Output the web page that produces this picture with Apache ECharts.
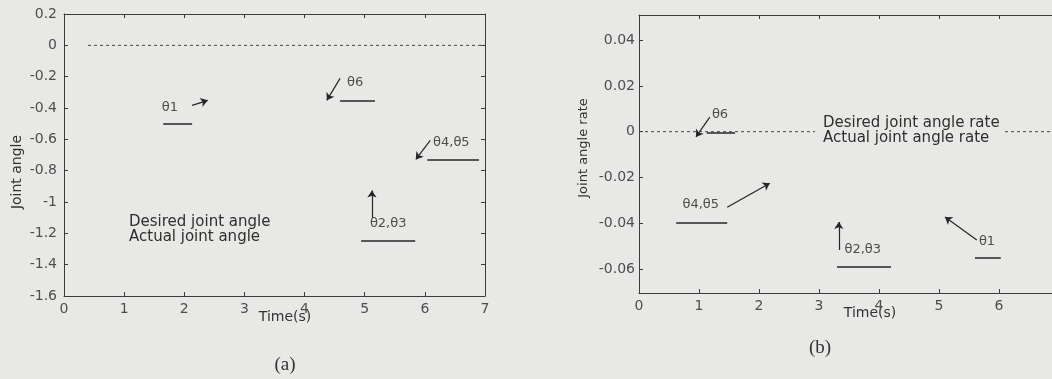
<!DOCTYPE html>
<html>
<head>
<meta charset="utf-8">
<script src="https://cdn.jsdelivr.net/npm/echarts@6/dist/echarts.min.js"></script>
<style>
  html, body { margin: 0; padding: 0; background: #e8e8e6; }
  #chart { width: 1052px; height: 379px; }
</style>
</head>
<body>
<div id="chart"></div>
<script>
// Axis ticks
const timeTicks = [0, 1, 2, 3, 4, 5, 6, 7];
const angleTicks = [-1.6, -1.4, -1.2, -1, -0.8, -0.6, -0.4, -0.2, 0, 0.2];
const rateTicks = [-0.06, -0.04, -0.02, 0, 0.02, 0.04];

// (a) joint angle: desired reference and actual joint segments
const angleDesired = [[0.4, 0], [7, 0]];
const angleNames = ['θ1', 'θ6', 'θ4,θ5', 'θ2,θ3'];
const angleSegStart = [1.65, 4.59, 6.04, 4.94];
const angleSegEnd = [2.13, 5.17, 6.90, 5.84];
const angleSegLevel = [-0.50, -0.351, -0.728, -1.246];
const angleTagPos = [[1.76, -0.40], [4.84, -0.236], [6.44, -0.62], [5.39, -1.137]];
const angleArrowFrom = [[2.13, -0.383], [4.59, -0.211], [6.09, -0.607], [5.12, -1.10]];
const angleArrowTo = [[2.39, -0.351], [4.37, -0.351], [5.85, -0.728], [5.12, -0.927]];

// (b) joint angle rate
const rateDesired = [[0, 0], [7, 0]];
const rateNames = ['θ6', 'θ4,θ5', 'θ2,θ3', 'θ1'];
const rateSegStart = [1.13, 0.62, 3.30, 5.60];
const rateSegEnd = [1.60, 1.47, 4.20, 6.03];
const rateSegLevel = [-0.0006, -0.040, -0.0591, -0.0552];
const rateTagPos = [[1.35, 0.0073], [1.03, -0.032], [3.73, -0.0517], [5.80, -0.0482]];
const rateArrowFrom = [[1.18, 0.0064], [1.47, -0.033], [3.33, -0.0517], [5.63, -0.0473]];
const rateArrowTo = [[0.95, -0.0023], [2.18, -0.0225], [3.33, -0.0395], [5.10, -0.0373]];

const BG = '#e8e8e6';
const AXIS = '#3c3c3c';
const INK = '#262626';
const LABEL = '#4e4e4e';
const SANS = 'DejaVu Sans';

function segments(starts, ends, levels) {
  return starts.map((s, i) => ({ coords: [[s, levels[i]], [ends[i], levels[i]]] }));
}
function arrows(from, to) {
  return from.map((f, i) => ({ coords: [f, to[i]] }));
}
function tags(names, pos) {
  return names.map((n, i) => ({ name: n, value: pos[i] }));
}

function xAxisPair(grid) {
  const base = {
    gridIndex: grid, type: 'value', min: timeTicks[0], max: timeTicks[timeTicks.length - 1], interval: 1,
    splitLine: { show: false },
    axisLine: { show: true, onZero: false, lineStyle: { color: AXIS, width: 1 } },
    axisTick: { show: true, inside: true, length: 4, lineStyle: { color: AXIS } }
  };
  return [
    Object.assign({}, base, {
      position: 'bottom',
      axisLabel: { show: true, margin: 6, color: LABEL, fontFamily: SANS, fontSize: 14 }
    }),
    Object.assign({}, base, { position: 'top', axisLabel: { show: false } })
  ];
}

const yBase = {
  type: 'value',
  splitLine: { show: false },
  axisLine: { show: true, onZero: false, lineStyle: { color: AXIS, width: 1 } },
  axisTick: { show: true, inside: true, length: 4, lineStyle: { color: AXIS } }
};

const chart = echarts.init(document.getElementById('chart'), null, { renderer: 'canvas' });

const tagLabel = {
  show: true, position: 'inside', formatter: '{b}',
  color: INK, fontFamily: SANS, fontSize: 13
};

const legendText = { color: '#2e2e2e', fontFamily: SANS, fontSize: 15, lineHeight: 13 };

chart.setOption({
  animation: false,
  backgroundColor: BG,
  grid: [
    { left: 64, top: 14, width: 421, height: 282, outerBoundsMode: 'none', containLabel: false },
    { left: 639, top: 15, width: 420, height: 278, outerBoundsMode: 'none', containLabel: false }
  ],
  xAxis: [].concat(xAxisPair(0), xAxisPair(1)),
  yAxis: [
    Object.assign({}, yBase, {
      gridIndex: 0, position: 'left', min: angleTicks[0], max: angleTicks[angleTicks.length - 1], interval: 0.2,
      axisLabel: { margin: 7, color: LABEL, fontFamily: SANS, fontSize: 14 }
    }),
    Object.assign({}, yBase, {
      gridIndex: 0, position: 'right', min: angleTicks[0], max: angleTicks[angleTicks.length - 1], interval: 0.2,
      axisLabel: { show: false }
    }),
    Object.assign({}, yBase, {
      gridIndex: 1, position: 'left', min: -0.0705, max: 0.051,
      axisTick: { show: true, inside: true, length: 4, lineStyle: { color: AXIS }, customValues: rateTicks },
      axisLabel: {
        margin: 4, color: LABEL, fontFamily: SANS, fontSize: 14, customValues: rateTicks,
        formatter: v => (Math.abs(v) < 1e-9 ? '0' : v.toFixed(2))
      }
    }),
    Object.assign({}, yBase, {
      gridIndex: 1, position: 'right', min: -0.0705, max: 0.051,
      axisTick: { show: true, inside: true, length: 4, lineStyle: { color: AXIS }, customValues: rateTicks },
      axisLabel: { show: false }
    })
  ],
  legend: [
    {
      data: ['Desired joint angle', 'Actual joint angle'],
      orient: 'vertical', left: 123, top: 215, padding: 0,
      itemWidth: 0, itemHeight: 0, itemGap: 0, icon: 'rect',
      itemStyle: { opacity: 0 }, lineStyle: { opacity: 0 },
      selectedMode: false, textStyle: legendText
    },
    {
      data: ['Desired joint angle rate', 'Actual joint angle rate'],
      orient: 'vertical', left: 815, top: 116, padding: [0, 3, 0, 2],
      itemWidth: 0, itemHeight: 0, itemGap: 0, icon: 'rect',
      itemStyle: { opacity: 0 }, lineStyle: { opacity: 0 },
      selectedMode: false, backgroundColor: BG, textStyle: legendText
    }
  ],
  graphic: [
    { type: 'text', x: 17, y: 172, rotation: Math.PI / 2,
      style: { text: 'Joint angle', align: 'center', verticalAlign: 'middle', fill: '#333', font: '14px "DejaVu Sans"' } },
    { type: 'text', x: 285, y: 317,
      style: { text: 'Time(s)', align: 'center', verticalAlign: 'middle', fill: '#333', font: '14px "DejaVu Sans"' } },
    { type: 'text', x: 285, y: 365,
      style: { text: '(a)', align: 'center', verticalAlign: 'middle', fill: '#333', font: '19px "Liberation Serif"' } },
    { type: 'text', x: 584, y: 148, rotation: Math.PI / 2,
      style: { text: 'Joint angle rate', align: 'center', verticalAlign: 'middle', fill: '#333', font: '13px "DejaVu Sans"' } },
    { type: 'text', x: 870, y: 313,
      style: { text: 'Time(s)', align: 'center', verticalAlign: 'middle', fill: '#333', font: '14px "DejaVu Sans"' } },
    { type: 'text', x: 820, y: 348,
      style: { text: '(b)', align: 'center', verticalAlign: 'middle', fill: '#333', font: '19px "Liberation Serif"' } }
  ],
  series: [
    // (a)
    {
      name: 'Desired joint angle', type: 'line', xAxisIndex: 0, yAxisIndex: 0,
      data: angleDesired, showSymbol: false, silent: true,
      lineStyle: { color: '#444', width: 1, type: [3, 3] }, itemStyle: { color: '#444' }
    },
    {
      name: 'Actual joint angle', type: 'lines', coordinateSystem: 'cartesian2d', xAxisIndex: 0, yAxisIndex: 0,
      data: segments(angleSegStart, angleSegEnd, angleSegLevel), silent: true,
      lineStyle: { color: INK, width: 1.5, opacity: 1 }, itemStyle: { color: INK }
    },
    {
      name: 'angle arrows', type: 'lines', coordinateSystem: 'cartesian2d', xAxisIndex: 0, yAxisIndex: 0,
      data: arrows(angleArrowFrom, angleArrowTo), silent: true,
      symbol: ['none', 'arrow'], symbolSize: 7,
      lineStyle: { color: INK, width: 1.2, opacity: 1 }
    },
    {
      name: 'angle tags', type: 'scatter', xAxisIndex: 0, yAxisIndex: 0,
      data: tags(angleNames, angleTagPos), symbolSize: 1, silent: true,
      itemStyle: { color: 'transparent' }, label: tagLabel
    },
    // (b)
    {
      name: 'Desired joint angle rate', type: 'line', xAxisIndex: 2, yAxisIndex: 2,
      data: rateDesired, showSymbol: false, silent: true,
      lineStyle: { color: '#444', width: 1, type: [3, 3] }, itemStyle: { color: '#444' }
    },
    {
      name: 'Actual joint angle rate', type: 'lines', coordinateSystem: 'cartesian2d', xAxisIndex: 2, yAxisIndex: 2,
      data: segments(rateSegStart, rateSegEnd, rateSegLevel), silent: true,
      lineStyle: { color: INK, width: 1.5, opacity: 1 }, itemStyle: { color: INK }
    },
    {
      name: 'rate arrows', type: 'lines', coordinateSystem: 'cartesian2d', xAxisIndex: 2, yAxisIndex: 2,
      data: arrows(rateArrowFrom, rateArrowTo), silent: true,
      symbol: ['none', 'arrow'], symbolSize: 7,
      lineStyle: { color: INK, width: 1.2, opacity: 1 }
    },
    {
      name: 'rate tags', type: 'scatter', xAxisIndex: 2, yAxisIndex: 2,
      data: tags(rateNames, rateTagPos), symbolSize: 1, silent: true,
      itemStyle: { color: 'transparent' }, label: tagLabel
    }
  ]
});
</script>
</body>
</html>
